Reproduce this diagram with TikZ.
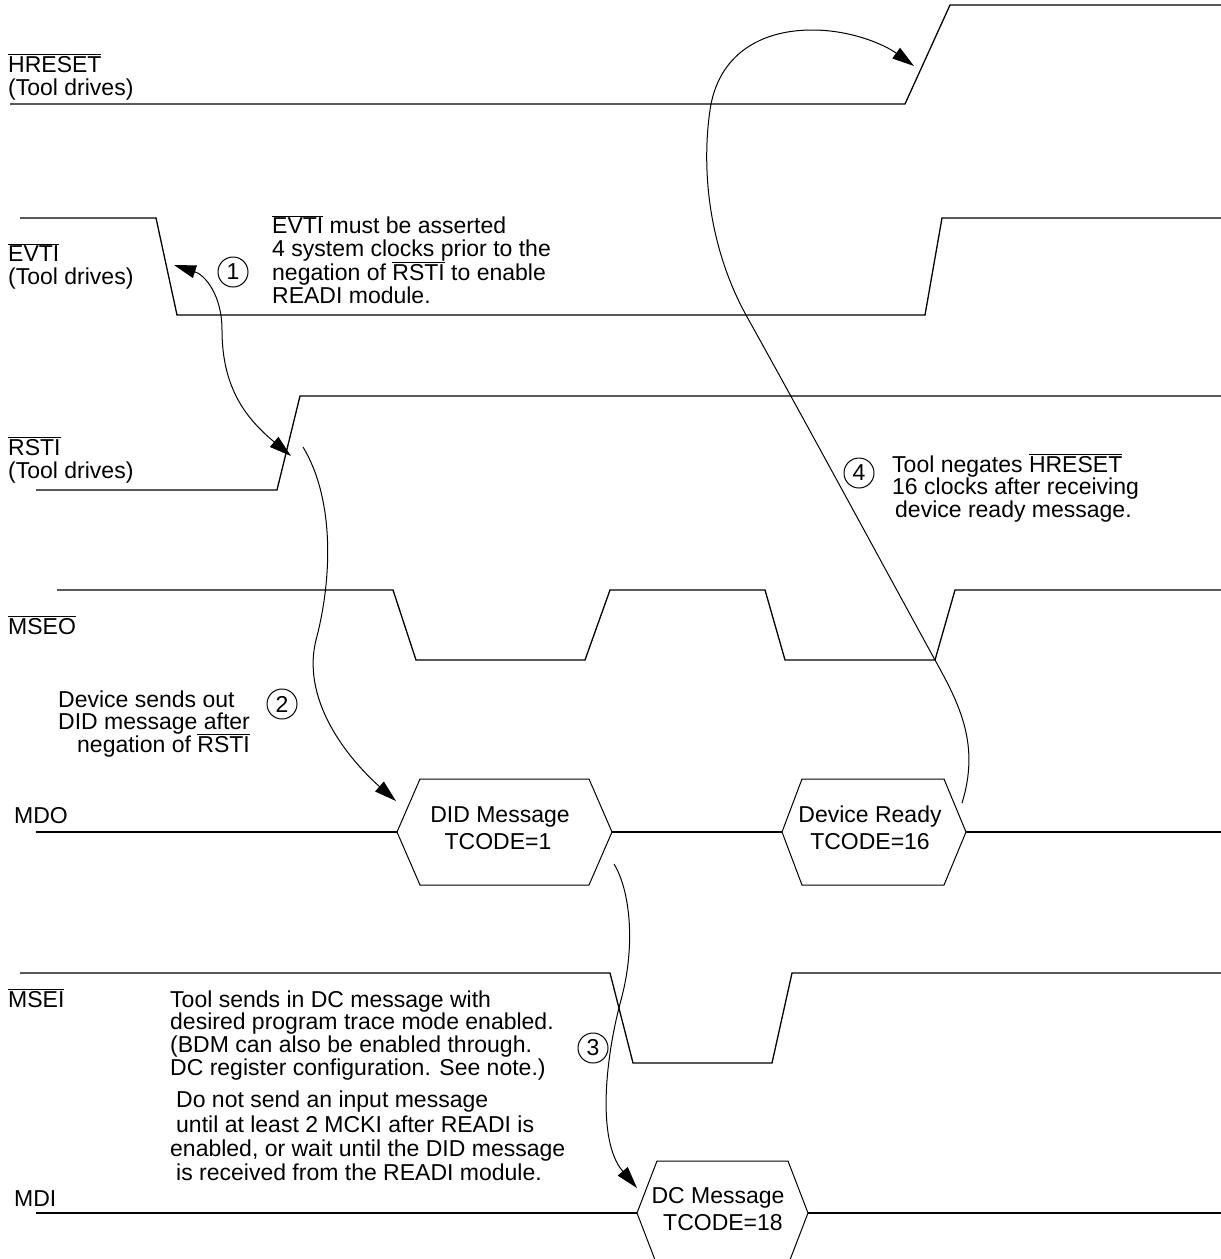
\documentclass[tikz,border=0pt]{standalone}
\usepackage{fontspec}
\setmainfont{Liberation Sans}
\usetikzlibrary{arrows.meta}
\newcommand\ovl[1]{$\overline{\mbox{#1}}$}
\begin{document}
\begin{tikzpicture}[x=1pt,y=-1pt,
  txt/.style={font=\fontsize{23}{23}\selectfont, inner sep=0pt, anchor=base west},
  ctr/.style={font=\fontsize{23}{23}\selectfont, inner sep=0pt, anchor=base},
  sig/.style={line width=1.3pt, line join=miter},
  hexa/.style={line width=1pt},
  conn/.style={line width=1pt, -{Triangle[length=22pt,width=13pt]}},
  conn2/.style={line width=1pt, {Triangle[length=22pt,width=13pt]}-{Triangle[length=22pt,width=13pt]}},
  num/.style={draw, circle, line width=1pt, minimum size=30pt, inner sep=0pt, font=\fontsize{23}{23}\selectfont}]
\useasboundingbox (0,0) rectangle (1221,1259);

% signal labels
\node[txt] (lhr) at (8,72) {\ovl{HRESET}};
\node[txt] (lhr2) at (8,95) {(Tool drives)};
\node[txt] (lev) at (8,261) {\ovl{EVTI}};
\node[txt] (lev2) at (8,284) {(Tool drives)};
\node[txt] (lrs) at (8,455) {\ovl{RSTI}};
\node[txt] (lrs2) at (8,478) {(Tool drives)};
\node[txt] (lmseo) at (8,634) {\ovl{MSEO}};
\node[txt] (lmdo) at (14,823) {MDO};
\node[txt] (lmsei) at (8,1007) {\ovl{MSEI}};
\node[txt] (lmdi) at (14,1206) {MDI};

% waveforms
\draw[sig] (10,104) -- (905,104) -- (950,5) -- (1221,5);
\draw[sig] (20,218) -- (156,218) -- (177,315) -- (925,315) -- (942,218) -- (1221,218);
\draw[sig] (36,490) -- (277,490) -- (300,396) -- (1221,396);
\draw[sig] (57,590) -- (393,590) -- (416,660) -- (585,660) -- (610,590) -- (765,590) -- (785,660) -- (935,660) -- (955,590) -- (1221,590);
\draw[sig] (36,832) -- (397,832);
\draw[sig] (612,832) -- (782,832);
\draw[sig] (966,832) -- (1221,832);
\draw[sig] (20,973) -- (610,973) -- (633,1063) -- (772,1063) -- (792,973) -- (1221,973);
\draw[sig] (36,1213) -- (637,1213);
\draw[sig] (808,1213) -- (1221,1213);

% message hexagons
\draw[hexa] (397,832) -- (420,779) -- (589,779) -- (612,832) -- (589,885) -- (420,885) -- cycle;
\draw[hexa] (782,832) -- (802,779) -- (944,779) -- (966,832) -- (944,885) -- (802,885) -- cycle;
\draw[hexa] (657,1265) -- (637,1213) -- (657,1161) -- (788,1161) -- (808,1213) -- (788,1265);
\node[ctr] (did1) at (500,822) {DID Message};
\node[ctr] (did2) at (498,849) {TCODE=1};
\node[ctr] (dr1) at (870,822) {Device Ready};
\node[ctr] (dr2) at (870,849) {TCODE=16};
\node[ctr] (dc1) at (718,1203) {DC Message};
\node[ctr] (dc2) at (723,1230) {TCODE=18};

% notes
\node[txt] (n1a) at (272,233) {\ovl{EVTI} must be asserted};
\node[txt] (n1b) at (272,256) {4 system clocks prior to the};
\node[txt] (n1c) at (272,280) {negation of \ovl{RSTI} to enable};
\node[txt] (n1d) at (272,303) {READI module.};

\node[txt] (n2a) at (58,707) {Device sends out};
\node[txt] (n2b) at (58,729) {DID message after};
\node[txt] (n2c) at (77,752) {negation of \ovl{RSTI}};

\node[txt] (n3a) at (170,1007) {Tool sends in DC message with};
\node[txt] (n3b) at (170,1029) {desired program trace mode enabled.};
\node[txt] (n3c) at (170,1052) {(BDM can also be enabled through.};
\node[txt] (n3d) at (170,1075) {DC register configuration. See note.)};
\node[txt] (n3e) at (176,1107) {Do not send an input message};
\node[txt] (n3f) at (176,1132) {until at least 2 MCKI after READI is};
\node[txt] (n3g) at (170,1156) {enabled, or wait until the DID message};
\node[txt] (n3h) at (176,1180) {is received from the READI module.};

\node[txt] (n4a) at (892,472) {Tool negates \ovl{HRESET}};
\node[txt] (n4b) at (892,494) {16 clocks after receiving};
\node[txt] (n4c) at (895,517) {device ready message.};

% step numbers
\node[num] (c1) at (233,272) {1};
\node[num] (c2) at (282,704) {2};
\node[num] (c3) at (593,1048) {3};
\node[num] (c4) at (859,473) {4};

% connectors
\coordinate (a1s) at (174,265);
\coordinate (a1e) at (291,456);
\coordinate (a2s) at (303,447);
\coordinate (a2e) at (396,801);
\coordinate (a3s) at (614,864);
\coordinate (a3e) at (637,1188);
\coordinate (a4s) at (962,803);
\coordinate (a4e) at (914,66);
\draw[conn2] (a1s) .. controls (205,275) and (222,295) .. (222,330) .. controls (222,390) and (248,420) .. (a1e);
\draw[conn] (a2s) .. controls (335,500) and (332,580) .. (316,640) .. controls (300,705) and (355,765) .. (a2e);
\draw[conn] (a3s) .. controls (630,890) and (636,945) .. (621,1000) .. controls (606,1055) and (596,1140) .. (a3e);
\draw[conn] (a4s) .. controls (980,745) and (960,705) .. (935,660) .. controls (872,545) and (810,430) .. (746,315) .. controls (713,255) and (700,180) .. (710,110) .. controls (718,55) and (760,30) .. (812,30) .. controls (852,30) and (885,45) .. (a4e);
\end{tikzpicture}
\end{document}
